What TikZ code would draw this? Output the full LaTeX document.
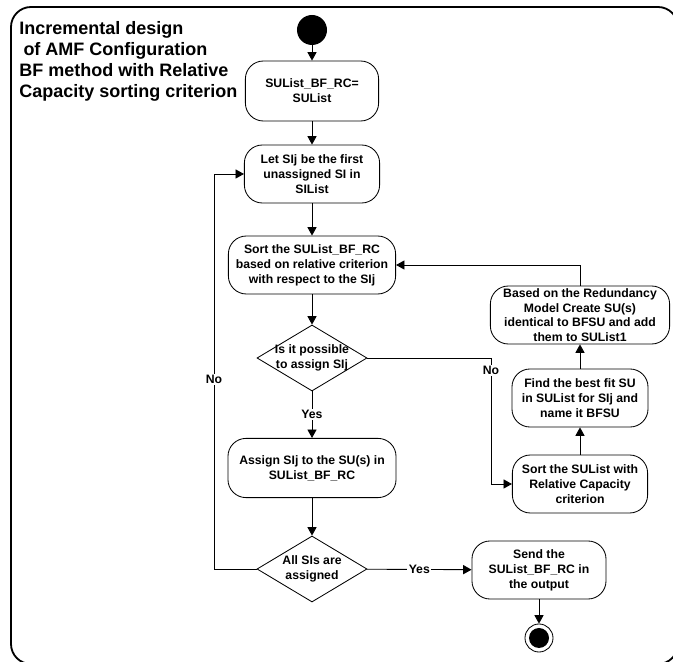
\documentclass[tikz,border=0pt]{standalone}
\usepackage{fontspec}
\newfontfamily\diagfont{Liberation Sans}
\usetikzlibrary{arrows.meta, shapes.geometric}

\newcommand{\boxfont}{\diagfont\bfseries\fontsize{8.7}{10.6}\selectfont}
\newcommand{\titlefont}{\diagfont\bfseries\fontsize{12.8}{15}\selectfont}

\begin{document}
\begin{tikzpicture}[x=0.025cm, y=-0.025cm, >={Triangle[length=6pt,width=6.5pt]},
    activity/.style={draw, line width=0.6pt, rounded corners=4.5mm, align=center, font=\boxfont, inner sep=1pt, minimum height=1.45cm},
    decision/.style={draw, line width=0.6pt, diamond, inner sep=0pt, minimum width=2.75cm, minimum height=1.65cm},
    startstate/.style={circle, fill, inner sep=0pt, minimum size=0.75cm},
    endstate/.style={circle, draw, line width=0.6pt, inner sep=0pt, minimum size=0.7cm, path picture={\fill (path picture bounding box.center) circle (0.25cm);}},
    guard/.style={fill=white, font=\boxfont, inner sep=1pt},
    flow/.style={->, line width=0.6pt}]

% page size is the frame of the reference, in pixels
\useasboundingbox (0,0) rectangle (673,662);
\clip (0,0) rectangle (673,662);

% outer rounded frame, it runs off the page at the right and bottom
\draw[line width=1.3pt, rounded corners=5mm] (11,7) rectangle (678,664);

% title in the top left corner
\node[anchor=north west, inner sep=0pt, align=left, font=\titlefont] (title) at (19,21) {Incremental design\\\hspace*{3pt}of AMF Configuration\\BF method with Relative\\Capacity sorting criterion};

% main column
\node[startstate] (start) at (312,30) {};
\node[activity, minimum width=3.33cm, minimum height=1.5cm] (init) at (312,91) {SUList\_BF\_RC=\\SUList};
\node[activity, minimum width=3.38cm] (pick) at (312,174) {Let SIj be the first\\unassigned SI in\\SIList};
\node[activity, minimum width=4.18cm] (sortrc) at (312,265) {Sort the SUList\_BF\_RC\\based on relative criterion\\with respect to the SIj};
\node[decision, label={[font=\boxfont, align=center]center:Is it possible\\to assign SIj}] (possible) at (312,358) {};
\node[activity, minimum width=4.2cm, minimum height=1.48cm] (assign) at (312,468) {Assign SIj to the SU(s) in\\SUList\_BF\_RC};
\node[decision, label={[font=\boxfont, align=center]center:All SIs are\\assigned}] (allsi) at (312,569) {};

% output and final state
\node[activity, minimum width=3.35cm] (send) at (539,570) {Send the\\SUList\_BF\_RC in\\the output};
\node[endstate] (stop) at (539,638) {};

% right column, going upwards
\node[activity, minimum width=3.38cm] (sortcap) at (580,484) {Sort the SUList with\\Relative Capacity\\criterion};
\node[activity, minimum width=3.4cm] (bfsu) at (580,398) {Find the best fit SU\\in SUList for SIj and\\name it BFSU};
\node[activity, minimum width=4.48cm, font=\diagfont\bfseries\fontsize{8.7}{10.3}\selectfont] (create) at (580,315) {Based on the Redundancy\\Model Create SU(s)\\identical to BFSU and add\\them to SUList1};

% corners of the two No branches
\coordinate (noback) at (214,569);
\coordinate (nocorner) at (491,358);

% flow down the main column
\draw[flow] (start) -- (init);
\draw[flow] (init) -- (pick);
\draw[flow] (pick) -- (sortrc);
\draw[flow] (sortrc) -- (possible);
\draw[flow] (possible) -- node[guard] {Yes} (assign);
\draw[flow] (assign) -- (allsi);
\draw[flow] (allsi) -- node[guard] {Yes} (send);
\draw[flow] (send) -- (stop);

% loop back to the next SI
\draw[flow] (allsi.west) -- (noback) |- node[guard, pos=0.24] {No} (pick.west);

% no room: make new SUs and sort again
\draw[flow] (possible.east) -- (nocorner) |- node[guard, pos=0.05] {No} (sortcap.west);
\draw[flow] (sortcap) -- (bfsu);
\draw[flow] (bfsu) -- (create);
\draw[flow] (create.north) |- (sortrc.east);

\end{tikzpicture}
\end{document}
